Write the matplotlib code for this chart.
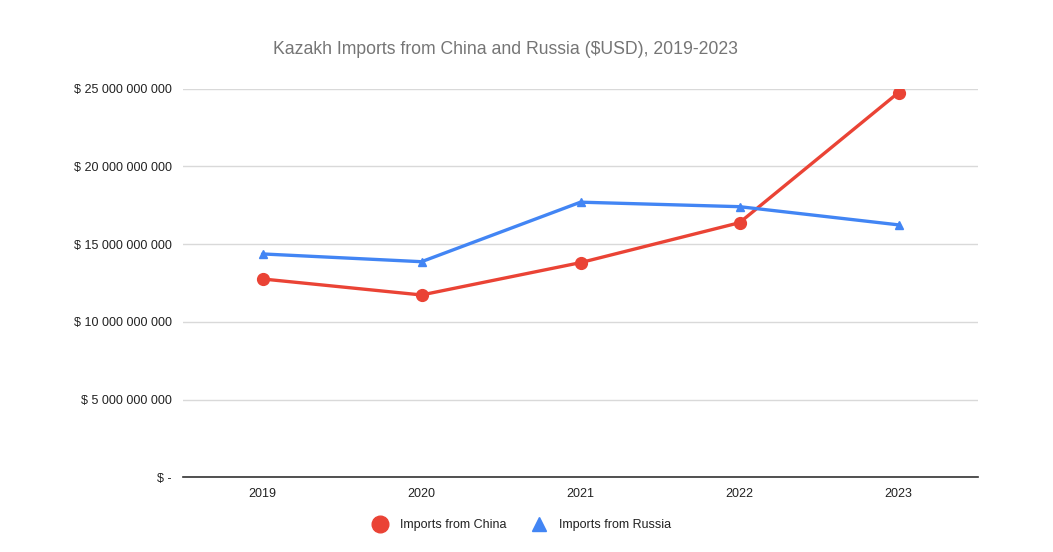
import matplotlib
matplotlib.use("Agg")
import matplotlib.pyplot as plt
from matplotlib.ticker import FuncFormatter
from matplotlib.lines import Line2D

years = ["2019", "2020", "2021", "2022", "2023"]
china = [12.76e9, 11.73e9, 13.81e9, 16.38e9, 24.75e9]
russia = [14.37e9, 13.87e9, 17.70e9, 17.41e9, 16.24e9]
yticks = [0, 5e9, 10e9, 15e9, 20e9, 25e9]

plt.rcParams['font.family'] = ['Liberation Sans', 'DejaVu Sans']

fig = plt.figure(figsize=(10.53, 5.52), dpi=100)
ax = fig.add_axes([183/1053, 1-477.3/552, (978-183)/1053, (477.3-88.7)/552])

red = "#ea4335"
blue = "#4285f4"
x = list(range(len(years)))
ax.plot(x, china, color=red, lw=2.4, marker="o", ms=8.5, zorder=3, solid_capstyle="round")
ax.plot(x, russia, color=blue, lw=2.4, marker="^", ms=6, zorder=4, solid_capstyle="round")

ax.set_xlim(-0.5, len(years) - 0.5)
ax.set_ylim(0, 25e9)
ax.set_xticks(x)
ax.set_xticklabels(years)
ax.set_yticks(yticks)

def fmt(v, pos):
    if v == 0:
        return "$ -"
    s = f"{int(v):,}".replace(",", " ")
    return "$ " + s
ax.yaxis.set_major_formatter(FuncFormatter(fmt))

ax.grid(axis="y", color="#d9d9d9", lw=1)
ax.set_axisbelow(True)
for s in ["top", "right", "left"]:
    ax.spines[s].set_visible(False)
ax.spines["bottom"].set_color("#333333")
ax.spines["bottom"].set_linewidth(1.2)
ax.tick_params(axis="both", length=0, labelsize=9, colors="#222222")
ax.tick_params(axis="y", pad=8)
ax.tick_params(axis="x", pad=8)

fig.text(505/1053, 1-50/552, "Kazakh Imports from China and Russia ($USD), 2019-2023",
         ha="center", va="center", fontsize=12.7, color="#757575")

handles = [Line2D([], [], color=red, marker="o", ms=12, ls="none"),
           Line2D([], [], color=blue, marker="^", ms=10, ls="none")]
fig.legend(handles, ["Imports from China", "Imports from Russia"], loc="center",
           bbox_to_anchor=(519/1053, 1-525/552), ncol=2, frameon=False, fontsize=9,
           handletextpad=0.6, columnspacing=1.6, labelcolor="#222222")

fig.savefig("out.png", dpi=100, facecolor="white")
